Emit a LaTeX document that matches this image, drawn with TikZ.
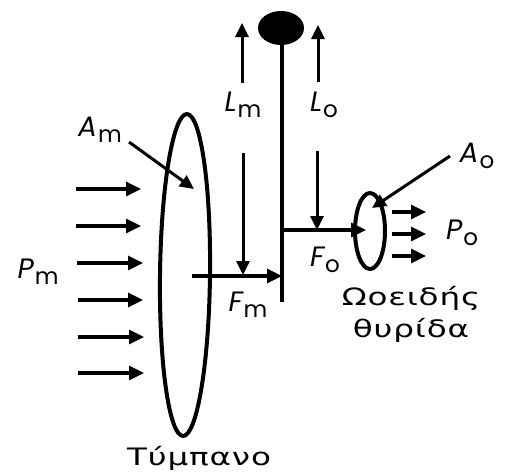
\documentclass[tikz,border=0pt]{standalone}
\usepackage{fontspec}
\setmainfont[FakeStretch=1.36,LetterSpace=3.5]{DejaVu Sans}
\newfontfamily\latinlab{Poppins}
\usetikzlibrary{arrows.meta}
\tikzset{
  arr/.style={line width=3.2pt,-{Triangle[length=15pt,width=14pt]}},
  thinarr/.style={line width=3pt,-{Triangle[length=14pt,width=13pt]}},
  lab/.style={inner sep=0pt,font=\latinlab\itshape\fontsize{28}{30}\selectfont},
  gr/.style={inner sep=0pt,font=\fontsize{24}{32}\selectfont,align=center}
}
\newcommand{\lsub}[2]{#1\kern1pt\raisebox{-6pt}{\fontsize{23}{24}\selectfont\upshape #2}}
\begin{document}
\begin{tikzpicture}[x=1pt,y=-1pt]
\useasboundingbox (0,0) rectangle (505,471);
% lever
\coordinate (leverTop) at (282,40);
\coordinate (leverBot) at (282,302);
\draw[line width=4.5pt] (leverTop) -- (leverBot);
\fill (281,28) ellipse [x radius=23,y radius=17];
% membranes
\draw[line width=4pt,rotate around={-0.7:(185,275)}] (185,275) ellipse [x radius=25,y radius=161];
\draw[line width=4pt] (370,231) ellipse [x radius=15,y radius=38];
% pressure arrows Pm
\foreach \n/\yy/\xa/\xb in {a/189/76/141,b/226/76/141,c/263/77/143,d/300/78/143,e/337/78/144,f/373/78/144}{
  \coordinate (pm\n s) at (\xa,\yy);
  \coordinate (pm\n e) at (\xb,\yy);
  \draw[arr] (pm\n s) -- (pm\n e);
}
% pressure arrows Po
\foreach \n/\yy in {a/212,b/234,c/256}{
  \coordinate (po\n s) at (392,\yy);
  \coordinate (po\n e) at (426,\yy);
  \draw[arr] (po\n s) -- (po\n e);
}
% lever-arm arrows
\coordinate (lmA) at (242,83); \coordinate (lmB) at (242,23);
\coordinate (loA) at (318,82); \coordinate (loB) at (318,25);
\coordinate (fmA) at (243,153); \coordinate (fmB) at (243,275);
\coordinate (foA) at (317,151); \coordinate (foB) at (317,230);
\draw[thinarr] (lmA) -- (lmB);
\draw[thinarr] (loA) -- (loB);
\draw[thinarr] (fmA) -- (fmB);
\draw[thinarr] (foA) -- (foB);
% force arrows
\coordinate (FmS) at (192,276); \coordinate (FmE) at (282,276);
\coordinate (FoS) at (284,230); \coordinate (FoE) at (366,230);
\draw[arr] (FmS) -- (FmE);
\draw[arr] (FoS) -- (FoE);
% area pointers
\coordinate (AmS) at (129,142); \coordinate (AmE) at (194,189);
\coordinate (AoS) at (450,156); \coordinate (AoE) at (372,208);
\draw[thinarr] (AmS) -- (AmE);
\draw[thinarr] (AoS) -- (AoE);
% labels
\node[lab] (Am) at (100,130) {\lsub{A}{m}};
\node[lab] (Ao) at (477,156) {\lsub{A}{o}};
\node[lab] (Lm) at (243,105) {\lsub{L}{m}};
\node[lab] (Lo) at (324,105) {\lsub{L}{o}};
\node[lab] (Pm) at (38,272) {\lsub{P}{m}};
\node[lab] (Po) at (462,233) {\lsub{P}{o}};
\node[lab] (Fm) at (248,305) {\lsub{F}{m}};
\node[lab] (Fo) at (325,260) {\lsub{F}{o}};
\node[gr] (oval) at (411,314) {Ωοειδής\\θυρίδα};
\node[gr] (tymp) at (199,458) {Τύμπανο};
\end{tikzpicture}
\end{document}
